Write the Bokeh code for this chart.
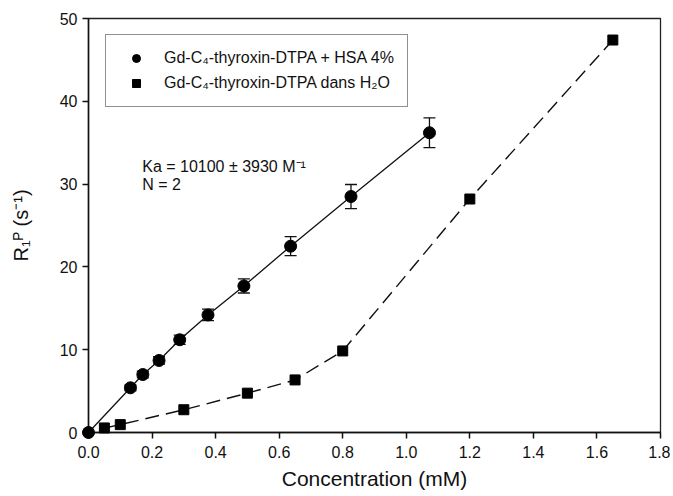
from bokeh.plotting import figure
from bokeh.models import ColumnDataSource, Whisker, Legend, LegendItem, Label, Range1d, FixedTicker, TeeHead
from bokeh.embed import file_html
from bokeh.resources import INLINE

# Data
hsa_conc = [0.0, 0.132, 0.171, 0.222, 0.287, 0.376, 0.489, 0.636, 0.826, 1.073]
hsa_r1 = [0.0, 5.4, 7.0, 8.7, 11.2, 14.2, 17.7, 22.5, 28.5, 36.2]
hsa_err = [0.0, 0.35, 0.4, 0.45, 0.55, 0.7, 0.85, 1.15, 1.45, 1.8]

h2o_conc = [0.05, 0.10, 0.30, 0.50, 0.65, 0.80, 1.20, 1.65]
h2o_r1 = [0.55, 0.95, 2.75, 4.75, 6.35, 9.85, 28.2, 47.4]

x_ticks = [0.0, 0.2, 0.4, 0.6, 0.8, 1.0, 1.2, 1.4, 1.6, 1.8]
y_ticks = [0, 10, 20, 30, 40, 50]

label_hsa = "Gd-C\u2084-thyroxin-DTPA + HSA 4%"
label_h2o = "Gd-C\u2084-thyroxin-DTPA dans H\u2082O"
note_ka = "Ka = 10100 \u00b1 3930 M\u207b\u00b9"
note_n = "N = 2"

FONT = "Liberation Sans"

p = figure(width=670, height=494, output_backend="svg", toolbar_location=None,
           x_range=Range1d(0, 1.8), y_range=Range1d(0, 50),
           min_border_left=88, min_border_right=10, min_border_top=18, min_border_bottom=62)
p.background_fill_color = "white"
p.border_fill_color = "white"
p.outline_line_color = "#222222"
p.outline_line_width = 1.3
p.xgrid.visible = False
p.ygrid.visible = False

for ax in (p.xaxis[0], p.yaxis[0]):
    ax.axis_line_width = 1.5
    ax.axis_line_color = "#111111"
    ax.major_tick_line_width = 1.5
    ax.major_tick_line_color = "#111111"
    ax.major_tick_out = 6
    ax.major_tick_in = 0
    ax.minor_tick_out = 0
    ax.minor_tick_in = 0
    ax.major_label_text_font = FONT
    ax.major_label_text_font_size = "16px"
    ax.major_label_text_color = "#111111"
    ax.axis_label_text_font = FONT
    ax.axis_label_text_font_style = "normal"
    ax.axis_label_text_color = "#111111"

p.xaxis.axis_label_text_font_size = "21px"
p.yaxis.axis_label_text_font_size = "20px"
p.xaxis.ticker = FixedTicker(ticks=x_ticks)
p.yaxis.ticker = FixedTicker(ticks=y_ticks)
p.xaxis.major_label_overrides = {t: f"{t:.1f}" for t in x_ticks}
p.xaxis.major_label_standoff = 7
p.yaxis.major_label_standoff = 5
p.xaxis.axis_label = "Concentration (mM)"
p.yaxis.axis_label = "R\u2081\u1d3e (s\u207b\u00b9)"
p.xaxis.axis_label_standoff = 6
p.yaxis.axis_label_standoff = 25

src_hsa = ColumnDataSource(dict(x=hsa_conc, y=hsa_r1))
src_h2o = ColumnDataSource(dict(x=h2o_conc, y=h2o_r1))
src_err = ColumnDataSource(dict(
    x=hsa_conc[1:],
    lo=[v - e for v, e in zip(hsa_r1[1:], hsa_err[1:])],
    hi=[v + e for v, e in zip(hsa_r1[1:], hsa_err[1:])],
))

p.line("x", "y", source=src_hsa, line_color="#111111", line_width=1.3)
p.line("x", "y", source=src_h2o, line_color="#111111", line_width=1.4, line_dash="14 7")

w = Whisker(base="x", lower="lo", upper="hi", source=src_err, dimension="height",
            line_color="#111111", line_width=1.3,
            upper_head=TeeHead(size=12, line_color="#111111", line_width=1.3),
            lower_head=TeeHead(size=12, line_color="#111111", line_width=1.3))
p.add_layout(w)

r_hsa = p.scatter("x", "y", source=src_hsa, marker="circle", size=12,
                  fill_color="black", line_color="black", level="overlay")
r_h2o = p.scatter("x", "y", source=src_h2o, marker="square", size=10,
                  fill_color="black", line_color="black", level="overlay")

legend = Legend(items=[LegendItem(label=label_hsa, renderers=[r_hsa]),
                       LegendItem(label=label_h2o, renderers=[r_h2o])],
                location=(17, 325))
legend.label_text_font = FONT
legend.label_text_font_size = "16px"
legend.label_text_color = "#111111"
legend.border_line_color = "#222222"
legend.border_line_width = 1.5
legend.padding = 13
legend.spacing = 5
legend.glyph_width = 34
legend.glyph_height = 20
legend.label_height = 20
legend.label_standoff = 11
legend.margin = 0
legend.background_fill_alpha = 1.0
p.add_layout(legend, "center")

p.add_layout(Label(x=0.169, y=32.1, text=note_ka, text_font=FONT, text_font_size="16px",
                   text_color="#111111", text_baseline="alphabetic"))
p.add_layout(Label(x=0.169, y=30.0, text=note_n, text_font=FONT, text_font_size="16px",
                   text_color="#111111", text_baseline="alphabetic"))

open("out.html", "w").write(file_html(p, INLINE))
